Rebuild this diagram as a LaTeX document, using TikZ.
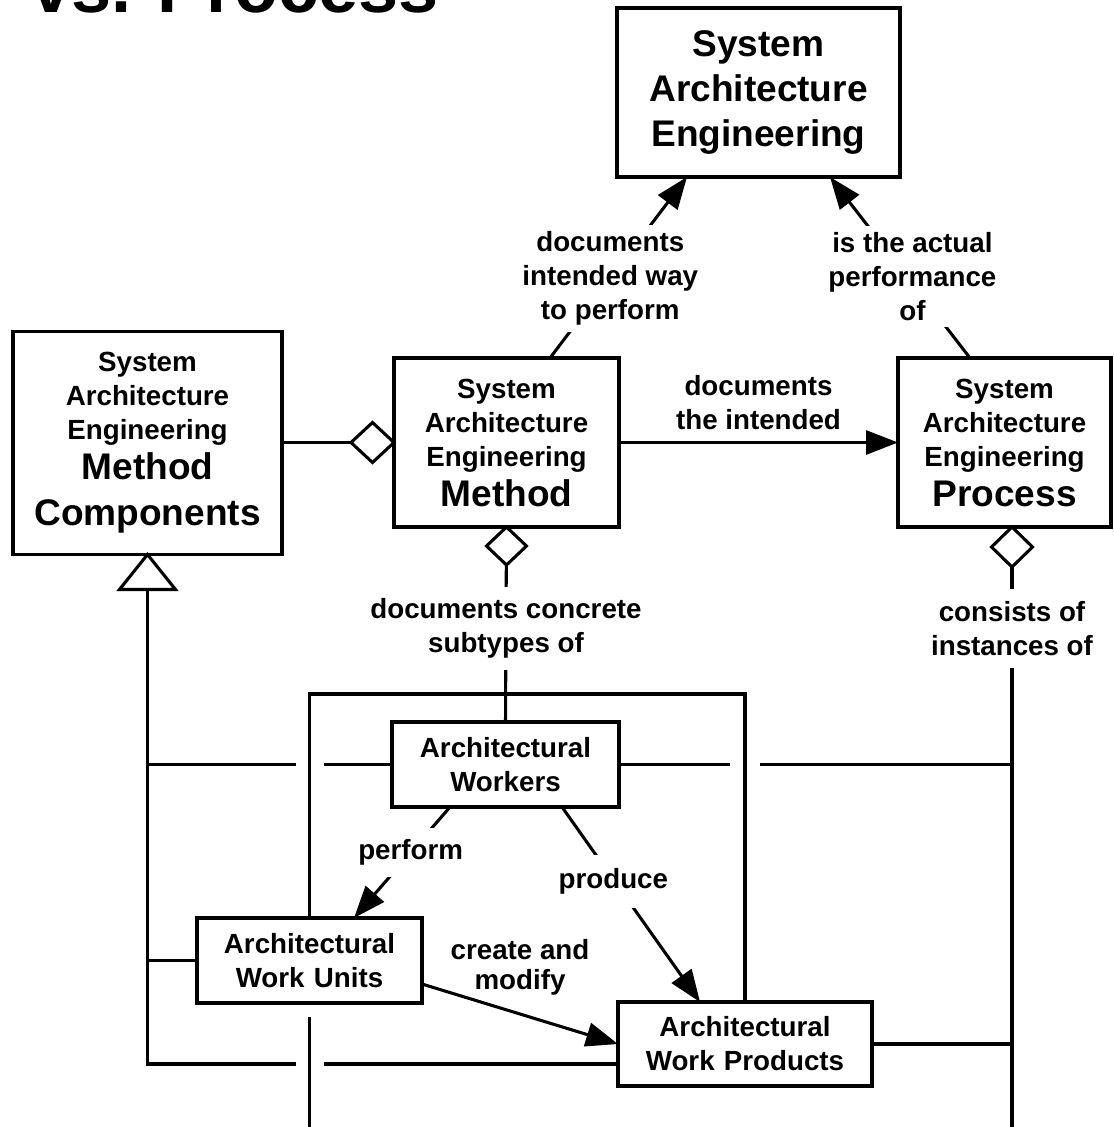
\documentclass[tikz,border=0pt]{standalone}
\usepackage{fontspec}
\setmainfont{Liberation Sans}
\usetikzlibrary{arrows.meta,calc}
\setlength\parindent{0pt}
\newcommand\txs{\fontsize{20.8pt}{25.5pt}\selectfont\bfseries}
\newcommand\txb{\fontsize{27.8pt}{30pt}\selectfont\bfseries}
\begin{document}
\begin{tikzpicture}[x=0.75pt,y=-0.75pt,
  box/.style={draw,line width=2.3pt,inner sep=0pt,outer sep=0pt,align=center,fill=white},
  lbl/.style={font=\txs,align=center,fill=white,inner xsep=2pt,inner ysep=5pt},
  flab/.style={font=\txs,align=center,inner sep=0pt,anchor=south},
  ln/.style={line width=2.3pt},
  arr/.style={line width=2.3pt,-{Triangle[length=24pt,width=18pt]}},
]
\clip (0,0) rectangle (1113,1127);
\fill[white] (0,0) rectangle (1113,1127);

\node[anchor=base west,font=\fontsize{54pt}{60pt}\selectfont\bfseries,inner sep=0pt] (title) at (31,13) {vs. Process};

% boxes
\node[box,text width=212.25pt,minimum height=126.75pt,font=\txb] (sae) at (758.5,92.5) {System\\[4pt]Architecture\\[4pt]Engineering};
\node[box,text width=201.75pt,minimum height=167.25pt,font=\txs] (lmc) at (147.5,443) {System\\Architecture\\Engineering\par\txb Method\\[4.5pt]Components\par};
\node[box,text width=168.75pt,minimum height=126.75pt,font=\txs] (meth) at (506.5,442.5) {System\\Architecture\\Engineering\par\txb Method\par};
\node[box,text width=159.75pt,minimum height=126.75pt,font=\txs] (proc) at (1004.5,442.5) {System\\Architecture\\Engineering\par\txb Process\par};
\node[box,text width=170.25pt,minimum height=63.75pt,font=\txs] (work) at (505.5,764.5) {Architectural\\Workers};
\node[box,text width=168.75pt,minimum height=63.75pt,font=\txs] (wu) at (309.5,960.5) {Architectural\\Work Units};
\node[box,text width=190.5pt,minimum height=63pt,font=\txs] (wp) at (745,1044) {Architectural\\Work Products};

% helper coordinates
\coordinate (pb) at ($(proc.south)+(7.5,0)$);
\coordinate (pend) at (1012,1135);
\coordinate (ftop) at (0,694);
\coordinate (tb) at ($(lmc.south)+(0,35)$);
\coordinate (wpl) at ($(wp.west)+(0,20)$);

% top connectors
\draw[arr] ($(meth.north)+(43.5,0)$) -- node[lbl,pos=0.44,inner ysep=4.7pt]{documents\\intended way\\to perform} ($(sae.south)+(-71.5,0)$);
\draw[arr] ($(proc.north)+(-34.5,0)$) -- node[lbl,pos=0.44,inner ysep=5pt,xshift=3pt,yshift=1.5pt]{is the actual\\performance\\of} ($(sae.south)+(71.5,0)$);

% method -> process
\draw[arr] (meth.east) -- node[flab,yshift=8.6pt]{documents\\the intended} (proc.west);

% aggregation lmc - method
\draw[ln] (lmc.east |- meth.west) -- ($(meth.west)+(-43,0)$);
\draw[ln,fill=white] (meth.west) -- ++(-21.5,-20) -- ++(-21.5,20) -- ++(21.5,20) -- cycle;

% method -> workers
\draw[ln] (meth.south) -- node[lbl,pos=0.51,inner ysep=8.5pt,yshift=-1.5pt]{documents concrete\\subtypes of} (work.north);
\draw[ln,fill=white] (meth.south) -- ++(20,19) -- ++(-20,19) -- ++(-20,-19) -- cycle;

% process -> instances
\draw[ln] (pb) -- node[lbl,pos=0.1667,inner ysep=9pt]{consists of\\instances of} (pend);
\draw[ln,fill=white] (pb) -- ++(20.5,20) -- ++(-20.5,20) -- ++(-20.5,-20) -- cycle;

% frame
\draw[ln] (wu.north) -- (wu.north |- ftop) -- (wp.north |- ftop) -- (wp.north);
\draw[ln] ($(wu.south)+(0,14)$) -- (wu.south |- pend);

% generalization
\draw[ln] (tb) -- (tb |- wpl) -- ($(wu.south |- wpl)+(-14,0)$);
\draw[ln] ($(wu.south |- wpl)+(14,0)$) -- (wpl);
\draw[ln] (tb |- work.west) -- ($(wu.north |- work.west)+(-14,0)$);
\draw[ln] ($(wu.north |- work.west)+(14,0)$) -- (work.west);
\draw[ln] (tb |- wu.west) -- (wu.west);
\draw[ln,fill=white] (lmc.south) -- ++(28,35) -- ++(-56,0) -- cycle;

% right branches
\draw[ln] (work.east) -- ($(wp.north |- work.east)+(-15,0)$);
\draw[ln] ($(wp.north |- work.east)+(15,0)$) -- (work.east -| pend);
\draw[ln] (wp.east) -- (wp.east -| pend);

% lower arrows
\draw[arr] ($(work.south)+(-55.5,0)$) -- node[lbl,pos=0.41,inner ysep=9pt]{perform} ($(wu.north)+(44.5,0)$);
\draw[arr] ($(work.south)+(56.5,0)$) -- node[lbl,pos=0.372,inner ysep=10pt,yshift=-1.5pt]{produce} ($(wp.north)+(-45,0)$);
\draw[arr] ($(wu.east)+(0,23.5)$) -- node[flab,yshift=12.75pt]{create and\\[-2.5pt]modify} (wp.west);
\end{tikzpicture}
\end{document}
